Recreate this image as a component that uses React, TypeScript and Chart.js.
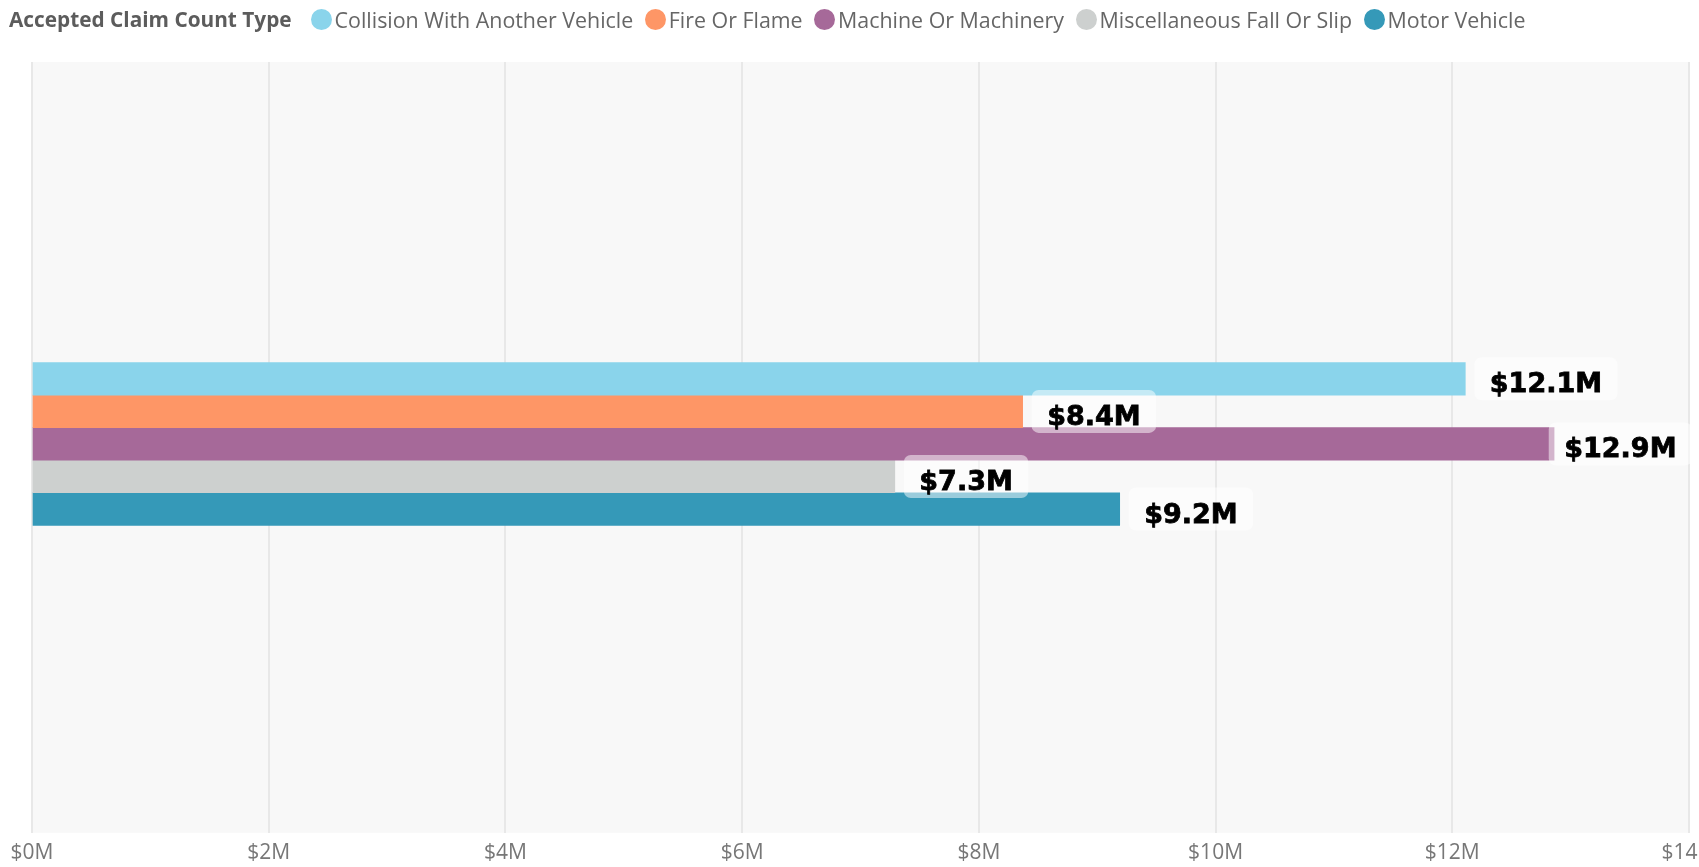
import React, { useEffect, useRef } from "react";
import { Chart, registerables } from "chart.js";

Chart.register(...registerables);

const legendTitle = "Accepted Claim Count Type";
const seriesNames = [
  "Collision With Another Vehicle",
  "Fire Or Flame",
  "Machine Or Machinery",
  "Miscellaneous Fall Or Slip",
  "Motor Vehicle",
];
const seriesValues = [12.11, 8.37, 12.86, 7.29, 9.19];
const valueLabels = ["$12.1M", "$8.4M", "$12.9M", "$7.3M", "$9.2M"];
const seriesColors = ["#8AD4EB", "#FE9666", "#A66999", "#CDD0CF", "#3599B8"];
const xMin = 0;
const xMax = 14;
const xStep = 2;

const CANVAS_W = 1730;
const CANVAS_H = 876;

const bgPlugin = {
  id: "plotBg",
  beforeDraw(chart: any) {
    const { ctx, chartArea } = chart;
    ctx.save();
    ctx.fillStyle = "#F8F8F8";
    ctx.fillRect(chartArea.left, chartArea.top, chartArea.right - chartArea.left, chartArea.bottom - chartArea.top);
    ctx.restore();
  },
};

const labelPlugin = {
  id: "valueLabels",
  afterDatasetsDraw(chart: any) {
    const { ctx, chartArea } = chart;
    ctx.save();
    ctx.font = 'bold 27px "DejaVu Sans"';
    ctx.textAlign = "center";
    ctx.textBaseline = "alphabetic";
    chart.data.datasets.forEach((_ds: any, i: number) => {
      const meta = chart.getDatasetMeta(i);
      const el = meta.data[0];
      if (!el) return;
      const text = valueLabels[i];
      const w = ctx.measureText(text).width;
      const boxW = w + 31;
      const boxH = 43;
      let left = el.x + 9;
      const maxRight = chartArea.right + 3;
      if (left + boxW > maxRight) left = maxRight - boxW;
      const top = el.y - boxH / 2;
      ctx.fillStyle = "rgba(255,255,255,0.5)";
      ctx.beginPath();
      (ctx as any).roundRect(left, top, boxW, boxH, 7);
      ctx.fill();
      ctx.fillStyle = "#000000";
      ctx.strokeStyle = "#000000";
      ctx.lineWidth = 0.8;
      ctx.fillText(text, left + boxW / 2, el.y + 13.5);
      ctx.strokeText(text, left + boxW / 2, el.y + 13.5);
    });
    ctx.restore();
  },
};

export default function App() {
  const canvasRef = useRef<HTMLCanvasElement | null>(null);

  useEffect(() => {
    const canvas = canvasRef.current;
    if (!canvas) return;
    const chart = new Chart(canvas, {
      type: "bar",
      data: {
        datasets: seriesNames.map((name, i) => ({
          label: name,
          data: [{ x: seriesValues[i], y: 0 }],
          backgroundColor: seriesColors[i],
          borderWidth: 0,
          barThickness: 32.55,
        })),
      },
      options: {
        indexAxis: "y",
        responsive: false,
        animation: false,
        layout: { padding: { left: 32, top: 62, right: CANVAS_W - 1689, bottom: 2 } },
        plugins: {
          legend: { display: false },
          tooltip: { enabled: false },
        },
        scales: {
          x: {
            type: "linear",
            min: xMin,
            max: xMax,
            border: { display: false },
            grid: { color: "#E8E8E8", lineWidth: 2, drawTicks: false },
            ticks: {
              stepSize: xStep,
              padding: 8,
              color: "#777777",
              font: { family: '"Open Sans"', size: 21 },
              callback: (v: any) => `$${v}M`,
              maxRotation: 0,
            },
          },
          y: {
            type: "linear",
            display: false,
            min: -50.52,
            max: 49.48,
          },
        },
      },
      plugins: [bgPlugin, labelPlugin],
    });
    return () => chart.destroy();
  }, []);

  return (
    <div style={{ position: "fixed", inset: 0, overflow: "hidden", background: "#FFFFFF" }}>
      <canvas
        ref={canvasRef}
        width={CANVAS_W}
        height={CANVAS_H}
        style={{ position: "absolute", left: 0, top: 0, width: CANVAS_W, height: CANVAS_H }}
      />
      <div
        style={{
          position: "absolute",
          left: 9,
          top: 0,
          height: 38,
          display: "flex",
          alignItems: "center",
          fontFamily: '"Open Sans", sans-serif',
          fontSize: 21.4,
          color: "#666666",
          whiteSpace: "nowrap",
        }}
      >
        <span style={{ fontWeight: 700, fontSize: 20.8, color: "#5C5C5C", marginRight: 19 }}>{legendTitle}</span>
        {seriesNames.map((n, i) => (
          <span key={n} style={{ display: "flex", alignItems: "center", marginRight: 11.5 }}>
            <span
              style={{
                display: "inline-block",
                width: 21,
                height: 21,
                borderRadius: "50%",
                background: seriesColors[i],
                marginRight: 3,
              }}
            />
            {n}
          </span>
        ))}
      </div>
    </div>
  );
}
